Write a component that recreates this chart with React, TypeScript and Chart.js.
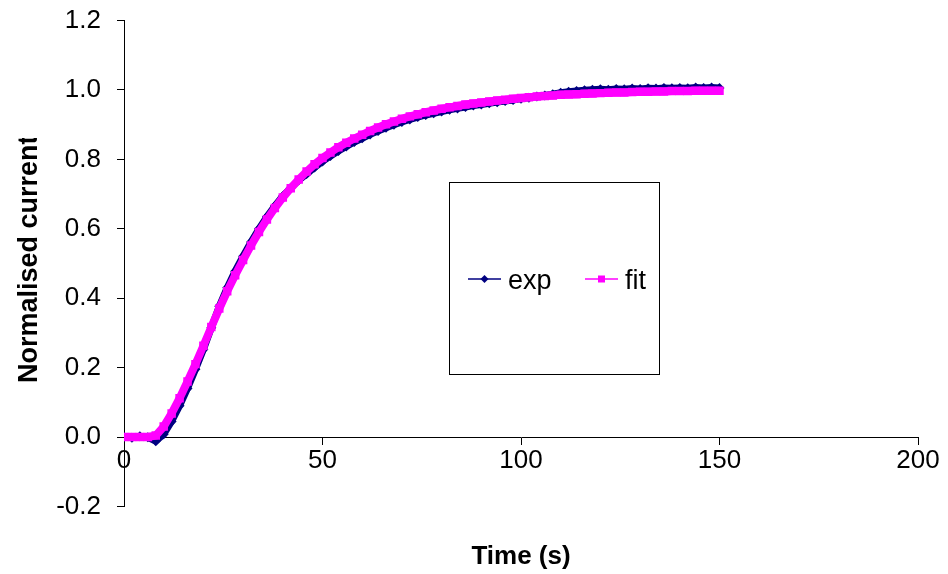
import React, { useEffect, useRef } from "react";
import { Chart, registerables } from "chart.js";

Chart.register(...registerables);

// ---- data ----
const timeS = [
  0, 2, 4, 6, 8, 10, 12, 14, 16, 18,
  20, 22, 24, 26, 28, 30, 32, 34, 36, 38,
  40, 42, 44, 46, 48, 50, 52, 54, 56, 58,
  60, 62, 64, 66, 68, 70, 72, 74, 76, 78,
  80, 82, 84, 86, 88, 90, 92, 94, 96, 98,
  100, 102, 104, 106, 108, 110, 112, 114, 116, 118,
  120, 122, 124, 126, 128, 130, 132, 134, 136, 138,
  140, 142, 144, 146, 148, 150,
];

const expValues = [
  0.001, -0.002, 0.002, -0.001, -0.012, 0.008, 0.045, 0.09, 0.14, 0.195,
  0.252, 0.315, 0.377, 0.43, 0.478, 0.521, 0.562, 0.6, 0.635, 0.666,
  0.694, 0.718, 0.74, 0.758, 0.777, 0.794, 0.81, 0.824, 0.837, 0.85,
  0.861, 0.872, 0.882, 0.891, 0.9, 0.908, 0.915, 0.922, 0.928, 0.933,
  0.938, 0.943, 0.947, 0.951, 0.955, 0.958, 0.962, 0.965, 0.968, 0.971,
  0.975, 0.978, 0.981, 0.984, 0.988, 0.992, 0.995, 0.997, 0.999, 1.001,
  1.002, 1.001, 1.003, 1.002, 1.004, 1.003, 1.005, 1.004, 1.006, 1.005,
  1.006, 1.005, 1.007, 1.006, 1.007, 1.006,
];

const fitValues = [
  0, 0, 0, 0, 0.004, 0.03, 0.068, 0.112, 0.16, 0.21,
  0.263, 0.317, 0.37, 0.42, 0.466, 0.51, 0.552, 0.591, 0.627, 0.66,
  0.69, 0.717, 0.742, 0.765, 0.786, 0.804, 0.82, 0.835, 0.848, 0.86,
  0.871, 0.882, 0.892, 0.901, 0.909, 0.917, 0.924, 0.93, 0.936, 0.941,
  0.946, 0.95, 0.954, 0.958, 0.961, 0.964, 0.967, 0.97, 0.972, 0.975,
  0.977, 0.979, 0.981, 0.983, 0.984, 0.986, 0.987, 0.988, 0.989, 0.99,
  0.991, 0.992, 0.993, 0.993, 0.994, 0.995, 0.995, 0.996, 0.996, 0.997,
  0.997, 0.997, 0.998, 0.998, 0.998, 0.998,
];

const seriesLabels = ["exp", "fit"];
const xTitle = "Time (s)";
const yTitle = "Normalised current";

const FONT = "'Liberation Sans', Arial, Helvetica, sans-serif";
const EXP_COLOR = "#000080";
const FIT_COLOR = "#FF00FF";

const overlayPlugin = {
  id: "overlay",
  afterDraw(chart: any) {
    const ctx = chart.ctx as CanvasRenderingContext2D;
    const area = chart.chartArea;

    // Y axis title (rotated)
    ctx.save();
    ctx.beginPath();
    ctx.rect(0, 138, 120, 574 - 138);
    ctx.clip();
    ctx.translate(37, 383);
    ctx.rotate(-Math.PI / 2);
    ctx.font = `bold 27px ${FONT}`;
    ctx.fillStyle = "#000";
    ctx.textAlign = "left";
    ctx.textBaseline = "alphabetic";
    ctx.fillText(yTitle, 0, 0);
    ctx.restore();

    // X axis title
    ctx.save();
    ctx.font = `bold 26px ${FONT}`;
    ctx.fillStyle = "#000";
    ctx.textAlign = "center";
    ctx.textBaseline = "alphabetic";
    ctx.fillText(xTitle, (area.left + area.right) / 2, 564);
    ctx.restore();

    // Legend box
    ctx.save();
    ctx.fillStyle = "#fff";
    ctx.fillRect(449.5, 182.5, 210, 192);
    ctx.strokeStyle = "#000";
    ctx.lineWidth = 1;
    ctx.strokeRect(449.5, 182.5, 210, 192);

    const slots = [
      { x0: 468, x1: 501, tx: 508 },
      { x0: 585, x1: 618, tx: 625 },
    ];
    const ly = 279;
    chart.data.datasets.forEach((ds: any, i: number) => {
      const s = slots[i];
      if (!s) return;
      ctx.strokeStyle = ds.borderColor;
      ctx.lineWidth = 1.5;
      ctx.beginPath();
      ctx.moveTo(s.x0, ly);
      ctx.lineTo(s.x1, ly);
      ctx.stroke();
      const cx = (s.x0 + s.x1) / 2;
      ctx.fillStyle = ds.borderColor;
      if (ds.pointStyle === "rectRot") {
        ctx.beginPath();
        ctx.moveTo(cx, ly - 4);
        ctx.lineTo(cx + 4, ly);
        ctx.lineTo(cx, ly + 4);
        ctx.lineTo(cx - 4, ly);
        ctx.closePath();
        ctx.fill();
      } else {
        ctx.fillRect(cx - 3.5, ly - 3.5, 7, 7);
      }
      ctx.fillStyle = "#000";
      ctx.font = `27px ${FONT}`;
      ctx.textAlign = "left";
      ctx.textBaseline = "alphabetic";
      ctx.fillText(ds.label, s.tx, 289);
    });
    ctx.restore();
  },
};

export default function App() {
  const ref = useRef<HTMLCanvasElement | null>(null);

  useEffect(() => {
    const canvas = ref.current;
    if (!canvas) return;
    Chart.defaults.font.family = FONT;

    const expData = timeS.map((t, i) => ({ x: t, y: expValues[i] }));
    const fitData = timeS.map((t, i) => ({ x: t, y: fitValues[i] }));

    const axisGrid = {
      drawOnChartArea: false,
      drawTicks: true,
      tickLength: 7,
      color: "#000",
      lineWidth: 1,
    };

    const chart = new Chart(canvas, {
      type: "scatter",
      data: {
        datasets: [
          {
            label: seriesLabels[0],
            data: expData,
            showLine: true,
            borderColor: EXP_COLOR,
            backgroundColor: EXP_COLOR,
            borderWidth: 7,
            pointStyle: "rectRot",
            pointRadius: 5,
            pointBorderWidth: 0,
            tension: 0,
            order: 2,
          },
          {
            label: seriesLabels[1],
            data: fitData,
            showLine: true,
            borderColor: FIT_COLOR,
            backgroundColor: FIT_COLOR,
            borderWidth: 8,
            pointStyle: "rect",
            pointRadius: 6,
            pointBorderWidth: 0,
            tension: 0,
            order: 1,
          },
        ],
      } as any,
      options: {
        animation: false,
        responsive: false,
        maintainAspectRatio: false,
        devicePixelRatio: 1,
        layout: { padding: { left: 0, right: 30, top: 20.6, bottom: 67.6 } },
        plugins: {
          legend: { display: false },
          tooltip: { enabled: false },
          title: { display: false },
        },
        scales: {
          x: {
            type: "linear",
            min: 0,
            max: 200,
            position: { y: 0 } as any,
            ticks: {
              stepSize: 50,
              color: "#000",
              font: { size: 26, family: FONT },
              padding: 1,
              maxRotation: 0,
              autoSkip: false,
            },
            grid: axisGrid,
            border: { display: true, color: "#000", width: 1 },
          },
          y: {
            type: "linear",
            min: -0.2,
            max: 1.2,
            position: "left",
            ticks: {
              stepSize: 0.2,
              color: "#000",
              font: { size: 26, family: FONT },
              padding: 16,
              autoSkip: false,
              callback: (v: any) => {
                const n = Math.abs(Number(v)) < 1e-9 ? 0 : Number(v);
                return n.toFixed(1);
              },
            },
            grid: axisGrid,
            border: { display: true, color: "#000", width: 1 },
            afterFit: (s: any) => {
              s.width = 124;
              s.paddingTop = 0;
              s.paddingBottom = 0;
            },
          },
        },
      } as any,
      plugins: [overlayPlugin],
    });

    return () => chart.destroy();
  }, []);

  return (
    <div
      style={{
        position: "absolute",
        left: 0,
        top: 0,
        width: 948,
        height: 574,
        background: "#fff",
      }}
    >
      <canvas ref={ref} width={948} height={574} style={{ display: "block" }} />
    </div>
  );
}
